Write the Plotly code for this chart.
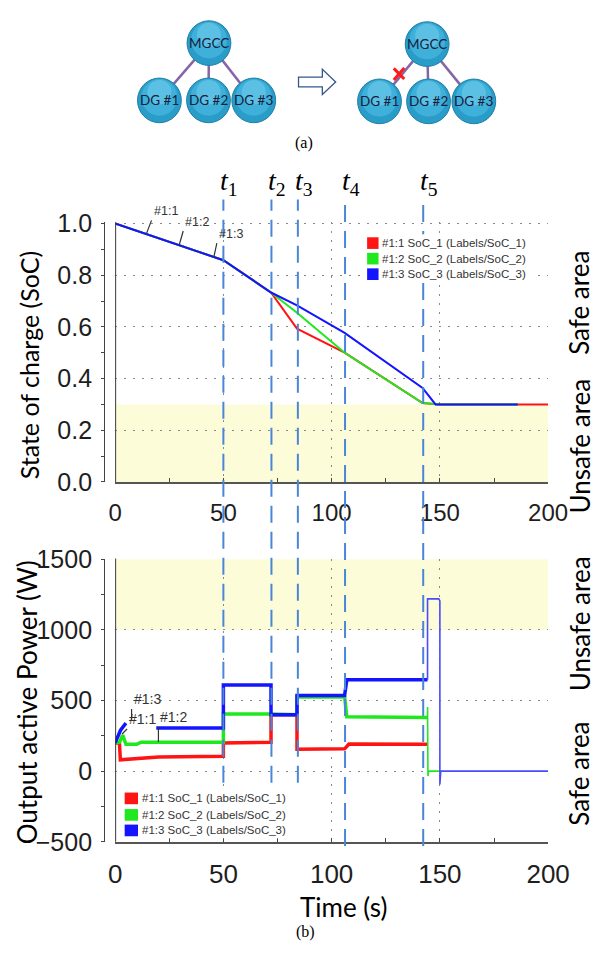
import plotly.graph_objects as go

W, H = 613, 958

# ---------------- data ----------------
# State of charge (top panel)
t_soc1 = [0, 50, 72, 84, 106, 142, 150, 200]
soc1 = [1.0, 0.858, 0.733, 0.593, 0.5, 0.305, 0.3, 0.3]
t_soc2 = [0, 50, 72, 84, 106, 142, 150, 186]
soc2 = [1.0, 0.858, 0.733, 0.655, 0.5, 0.305, 0.3, 0.3]
t_soc3 = [0, 50, 72, 84, 106, 142, 148, 186]
soc3 = [1.0, 0.858, 0.733, 0.683, 0.577, 0.364, 0.3, 0.3]

# Output active power (bottom panel)
t_p1 = [0, 2, 2.4, 6, 12, 20, 50, 50, 72, 72, 84, 84, 106, 108, 144.3]
p1 = [200, 200, 80, 85, 92, 100, 105, 200, 205, 400, 400, 155, 158, 192, 190]
t_p2 = [0, 2, 3.5, 5, 10, 12, 50, 50, 72, 84, 84, 106, 107, 144.3]
p2 = [200, 205, 255, 190, 190, 205, 205, 405, 405, 400, 525, 525, 385, 380]
t_p2_tail = [144.3, 144.3, 144.5, 144.8, 150]
p2_tail = [380, 455, -35, 0, 0]
t_p3 = [0, 2.5, 5, None, 19, 50, 50, 72, 72, 84, 84, 106, 107, 144.3]
p3 = [200, 290, 340, None, 305, 305, 610, 610, 400, 400, 535, 535, 648, 648]
t_p3_tail = [144.3, 144.3, 149.5, 150, 150, 150.4, 200]
p3_tail = [648, 1220, 1220, 1205, -95, 0, 0]

event_times = [50, 72.2, 84.4, 106.2, 142.3]
event_names = ["1", "2", "3", "4", "5"]

legend_labels = ["#1:1 SoC_1 (Labels/SoC_1)", "#1:2 SoC_2 (Labels/SoC_2)", "#1:3 SoC_3 (Labels/SoC_3)"]
soc_ticks = [0.0, 0.2, 0.4, 0.6, 0.8, 1.0]
soc_ticktext = ["0.0", "0.2", "0.4", "0.6", "0.8", "1.0"]
p_ticks = [-500, 0, 500, 1000, 1500]
time_ticks = [0, 50, 100, 150, 200]

RED, GREEN, BLUE = "#ff1414", "#1fe81f", "#1414ff"
COLORS = [RED, GREEN, BLUE]


def px(x):
    return x / W


def py(y):
    return 1 - y / H


fig = go.Figure()

# top traces
for t, s, c in [(t_soc1, soc1, RED), (t_soc2, soc2, GREEN), (t_soc3, soc3, BLUE)]:
    fig.add_trace(go.Scatter(x=t, y=s, mode="lines", line=dict(color=c, width=2),
                             xaxis="x", yaxis="y", showlegend=False, hoverinfo="skip"))
# bottom traces
fig.add_trace(go.Scatter(x=t_p1, y=p1, mode="lines", line=dict(color=RED, width=3.5),
                         xaxis="x2", yaxis="y2", showlegend=False))
fig.add_trace(go.Scatter(x=t_p2, y=p2, mode="lines", line=dict(color=GREEN, width=3.5),
                         xaxis="x2", yaxis="y2", showlegend=False))
fig.add_trace(go.Scatter(x=t_p2_tail, y=p2_tail, mode="lines", line=dict(color=GREEN, width=1.6),
                         xaxis="x2", yaxis="y2", showlegend=False))
fig.add_trace(go.Scatter(x=t_p3, y=p3, mode="lines", line=dict(color=BLUE, width=3.5),
                         xaxis="x2", yaxis="y2", showlegend=False, connectgaps=False))
fig.add_trace(go.Scatter(x=t_p3_tail, y=p3_tail, mode="lines", line=dict(color="#4a4aff", width=1.6),
                         xaxis="x2", yaxis="y2", showlegend=False))

XDOM = [px(113.5), px(568)]
GRID = dict(showgrid=True, gridcolor="#8a8a8a", gridwidth=1.4, griddash="2px,7px")
TICKFONT = dict(family="Liberation Sans, Arial", size=25, color="#1e1e1e")

fig.update_layout(
    width=W, height=H, margin=dict(l=0, r=0, t=0, b=0),
    paper_bgcolor="white", plot_bgcolor="white", showlegend=False,
    xaxis=dict(domain=XDOM, range=[0, 200], anchor="y", tickvals=time_ticks,
               ticks="inside", ticklen=4, tickcolor="#444", showline=True, linecolor="#555",
               linewidth=1.6, tickfont=dict(family="Liberation Sans, Arial", size=24, color="#1e1e1e"),
               minor=dict(dtick=25, ticks="inside", ticklen=4, tickcolor="#444", showgrid=False),
               zeroline=False, ticklabelstandoff=8, **GRID),
    yaxis=dict(domain=[py(482), py(214.5)], range=[0, 1.005], anchor="free", position=px(102),
               tickvals=soc_ticks, ticktext=soc_ticktext, ticks="outside", ticklen=3,
               tickcolor="#444", showline=True, linecolor="#444", linewidth=1.2,
               minor=dict(dtick=0.1, ticks="outside", ticklen=3, tickcolor="#444", showgrid=False),
               tickfont=TICKFONT, zeroline=False, ticklabelstandoff=4, **GRID),
    xaxis2=dict(domain=XDOM, range=[0, 200], anchor="y2", tickvals=time_ticks,
                ticks="inside", ticklen=4, tickcolor="#444", showline=True, linecolor="#555",
                linewidth=1.6, tickfont=dict(family="Liberation Sans, Arial", size=26, color="#1e1e1e"),
                minor=dict(dtick=25, ticks="inside", ticklen=4, tickcolor="#444", showgrid=False),
                zeroline=False, ticklabelstandoff=8, **GRID),
    yaxis2=dict(domain=[py(852.7), py(561)], range=[-500, 1505], anchor="free", position=px(102),
                tickvals=p_ticks, ticks="outside", ticklen=3, tickcolor="#444", showline=True,
                linecolor="#444", linewidth=1.2,
                minor=dict(dtick=250, ticks="outside", ticklen=3, tickcolor="#444", showgrid=False),
                tickfont=dict(family="Liberation Sans, Arial", size=25, color="#1e1e1e"),
                zeroline=False, ticklabelstandoff=4, **GRID),
)

shapes = []
ann = []

# unsafe (yellow) bands
shapes.append(dict(type="rect", xref="x", yref="y", x0=0, x1=200, y0=0, y1=0.3,
                   fillcolor="#fdfcd9", line=dict(width=0), layer="below"))
shapes.append(dict(type="rect", xref="x2", yref="y2", x0=0, x1=200, y0=1000, y1=1500,
                   fillcolor="#fdfcd9", line=dict(width=0), layer="below"))
# plot left edges
shapes.append(dict(type="line", xref="x", yref="y domain", x0=0, x1=0, y0=0, y1=1,
                   line=dict(color="#3a3a3a", width=2)))
shapes.append(dict(type="line", xref="x2", yref="y2 domain", x0=0, x1=0, y0=0, y1=1,
                   line=dict(color="#3a3a3a", width=2)))

# event lines t1..t5
ends = [792, 792, 792, 857, 857]
for t, e, n in zip(event_times, ends, event_names):
    shapes.append(dict(type="line", xref="x", yref="paper", x0=t, x1=t, y0=py(e), y1=py(191),
                       line=dict(color="#4a86d8", width=2, dash="17px,9px")))
    ann.append(dict(xref="x", yref="paper", x=t, y=py(174), xanchor="left", yanchor="middle",
                    xshift=-5, showarrow=False,
                    text="<i>t</i><sub>" + n + "</sub>",
                    font=dict(family="Liberation Serif, Times New Roman", size=28, color="black")))


def label(x, y, text, font, angle=0):
    ann.append(dict(xref="paper", yref="paper", x=px(x), y=py(y), text=text, textangle=angle,
                    xanchor="center", yanchor="middle", showarrow=False, font=font))


# legends (drawn boxes)
def add_legend(x_bg0, x_bg1, y_bg0, y_bg1, sq_x0, sq_x1, rows, text_x, sq_h):
    shapes.append(dict(type="rect", xref="paper", yref="paper", x0=px(x_bg0), x1=px(x_bg1),
                       y0=py(y_bg1), y1=py(y_bg0), fillcolor="white", line=dict(width=0)))
    for c, yc, lab in zip(COLORS, rows, legend_labels):
        shapes.append(dict(type="rect", xref="paper", yref="paper", x0=px(sq_x0), x1=px(sq_x1),
                           y0=py(yc + sq_h / 2), y1=py(yc - sq_h / 2), fillcolor=c, line=dict(width=0)))
        ann.append(dict(xref="paper", yref="paper", x=px(text_x), y=py(yc), xanchor="left",
                        yanchor="middle", showarrow=False, text=lab,
                        font=dict(family="Liberation Sans, Arial", size=11.5, color="#333")))


add_legend(372, 557, 227, 277, 378, 390, [236, 252, 268], 392, 12)
add_legend(118, 303, 799, 849, 123.5, 137.5, [808, 825, 841], 139.5, 12)


# small trace labels
def tag(xr, yr, x, y, ax, ay, text, size):
    ann.append(dict(xref=xr, yref=yr, x=x, y=y, ax=ax, ay=ay, text=text, showarrow=True,
                    arrowhead=0, arrowwidth=1.2, arrowcolor="#333", xanchor="left", yanchor="bottom",
                    font=dict(family="Liberation Sans, Arial", size=size, color="#333")))


tag("x", "y", 14.5, 0.962, 5, -13, "#1:1", 12.5)
tag("x", "y", 29.6, 0.917, 4, -14, "#1:2", 12.5)
tag("x", "y", 45.6, 0.870, 3, -14, "#1:3", 12.5)
tag("x2", "y2", 7.6, 356, 0, -12, "#1:3", 14)
tag("x2", "y2", 3.2, 263, 5, -5, "#1:1", 14)
tag("x2", "y2", 20.0, 206, 0, -15, "#1:2", 14)

# axis titles and side labels
TF = dict(family="Lato, Open Sans", size=25, color="black")
TF2 = dict(family="Lato, Open Sans", size=26, color="black")
label(24, 362, "State of charge (SoC)", TF, -90)
label(21, 709, "Output active Power (W)", TF2, -90)
label(353, 920, "Time (s)", TF2)
for txt, yc in [("Safe area", 298), ("Unsafe area", 445), ("Unsafe area", 628), ("Safe area", 783)]:
    label(601, yc, txt, TF2, -90)
SERIF = dict(family="Liberation Serif, Times New Roman", size=16, color="black")
label(312, 133, "(a)", SERIF)
label(313, 946, "(b)", SERIF)


# ---------------- diagram (a) ----------------
def seg(x0, y0, x1, y1, color, width):
    shapes.append(dict(type="line", xref="paper", yref="paper", x0=px(x0), y0=py(y0),
                       x1=px(x1), y1=py(y1), line=dict(color=color, width=width)))


def node(cx, cy, r, text):
    shapes.append(dict(type="circle", xref="paper", yref="paper", x0=px(cx - r), x1=px(cx + r),
                       y0=py(cy + r), y1=py(cy - r), fillcolor="#2a9cc8",
                       line=dict(color="#1f7fa8", width=1)))
    r2 = r * 0.82
    shapes.append(dict(type="circle", xref="paper", yref="paper", x0=px(cx - r2), x1=px(cx + r2),
                       y0=py(cy - r + 2 * r2 + 1), y1=py(cy - r + 1), fillcolor="#3eb0da",
                       line=dict(width=0)))
    r3 = r * 0.55
    shapes.append(dict(type="circle", xref="paper", yref="paper", x0=px(cx - r3), x1=px(cx + r3),
                       y0=py(cy - r + 2 * r3 + 2), y1=py(cy - r + 2), fillcolor="#5cc0e4",
                       line=dict(width=0)))
    label(cx, cy, text, dict(family="Lato, Open Sans", size=13.5, color="#14213d"))


LINEC = "#8466a8"
# left diagram
for dx in [160, 211.5, 259]:
    seg(212, 30, dx, 89, LINEC, 2.5)
node(212, 30, 23, "MGCC")
node(160, 89, 23, "DG #1")
node(211.5, 89, 23, "DG #2")
node(259, 89, 23, "DG #3")
# right diagram
for dx in [391, 442.5, 490]:
    seg(441, 31, dx, 90, LINEC, 2.5)
node(441, 31, 23, "MGCC")
node(391, 90, 23, "DG #1")
node(442.5, 90, 23, "DG #2")
node(490, 90, 23, "DG #3")
# red cross
seg(406, 56, 417, 67, "#ff1a1a", 3)
seg(417, 55.5, 406, 68, "#ff1a1a", 3)
# hollow arrow
pts = [(306, 65), (331, 65), (331, 57), (345, 70), (331, 83), (331, 75), (306, 75)]
path = "M " + " L ".join(f"{px(a):.5f},{py(b):.5f}" for a, b in pts) + " Z"
shapes.append(dict(type="path", xref="paper", yref="paper", path=path, fillcolor="white",
                   line=dict(color="#35578a", width=1.3)))

fig.update_layout(shapes=shapes, annotations=ann)

fig.write_html("out.html", config={"displayModeBar": False},
               post_script="document.body.style.margin='0';")
